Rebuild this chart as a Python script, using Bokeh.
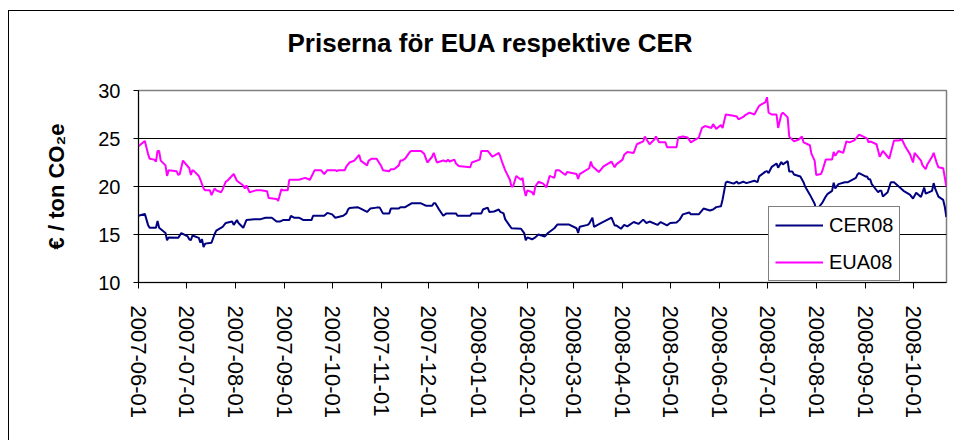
import pandas as pd
from bokeh.plotting import figure
from bokeh.models import (FixedTicker, DatetimeTickFormatter, Legend, LegendItem,
                          Range1d, Title)
from bokeh.embed import file_html
from bokeh.resources import INLINE

# ---------------- data ----------------
title_text = "Priserna för EUA respektive CER"
y_label = "€ / ton CO₂e"
y_ticks = [10, 15, 20, 25, 30]
tick_labels = ["2007-06-01", "2007-07-01", "2007-08-01", "2007-09-01", "2007-10-01",
               "2007-11-01", "2007-12-01", "2008-01-01", "2008-02-01", "2008-03-01",
               "2008-04-01", "2008-05-01", "2008-06-01", "2008-07-01", "2008-08-01",
               "2008-09-01", "2008-10-01"]
series_names = ["CER08", "EUA08"]

eua_dates = [
    "2007-06-01", "2007-06-05", "2007-06-07", "2007-06-08", "2007-06-11", "2007-06-12",
    "2007-06-13", "2007-06-14", "2007-06-15", "2007-06-18", "2007-06-19", "2007-06-20",
    "2007-06-25", "2007-06-26", "2007-06-27", "2007-06-29", "2007-07-03", "2007-07-04",
    "2007-07-05", "2007-07-06", "2007-07-09", "2007-07-10", "2007-07-12", "2007-07-13",
    "2007-07-16", "2007-07-17", "2007-07-19", "2007-07-20", "2007-07-23", "2007-07-24",
    "2007-07-26", "2007-07-27", "2007-07-31", "2007-08-02", "2007-08-06", "2007-08-07",
    "2007-08-08", "2007-08-10", "2007-08-14", "2007-08-17", "2007-08-21", "2007-08-22",
    "2007-08-27", "2007-08-28", "2007-08-30", "2007-08-31", "2007-09-03", "2007-09-04",
    "2007-09-10", "2007-09-14", "2007-09-17", "2007-09-20", "2007-09-24", "2007-09-26",
    "2007-09-28", "2007-10-03", "2007-10-04", "2007-10-05", "2007-10-09", "2007-10-10",
    "2007-10-12", "2007-10-15", "2007-10-18", "2007-10-19", "2007-10-23", "2007-10-24",
    "2007-10-26", "2007-10-29", "2007-11-01", "2007-11-02", "2007-11-06", "2007-11-07",
    "2007-11-09", "2007-11-12", "2007-11-13", "2007-11-14", "2007-11-16", "2007-11-19",
    "2007-11-20", "2007-11-26", "2007-11-28", "2007-11-30", "2007-12-03", "2007-12-04",
    "2007-12-06", "2007-12-10", "2007-12-12", "2007-12-13", "2007-12-14", "2007-12-17",
    "2007-12-18", "2007-12-20", "2007-12-21", "2007-12-27", "2007-12-28", "2008-01-02",
    "2008-01-03", "2008-01-07", "2008-01-10", "2008-01-14", "2008-01-15", "2008-01-16",
    "2008-01-18", "2008-01-21", "2008-01-22", "2008-01-23", "2008-01-25", "2008-01-28",
    "2008-01-29", "2008-01-30", "2008-01-31", "2008-02-01", "2008-02-04", "2008-02-05",
    "2008-02-06", "2008-02-08", "2008-02-11", "2008-02-13", "2008-02-15", "2008-02-18",
    "2008-02-19", "2008-02-21", "2008-02-25", "2008-02-26", "2008-03-03", "2008-03-04",
    "2008-03-05", "2008-03-07", "2008-03-11", "2008-03-12", "2008-03-13", "2008-03-17",
    "2008-03-20", "2008-03-25", "2008-03-27", "2008-03-28", "2008-04-01", "2008-04-02",
    "2008-04-04", "2008-04-08", "2008-04-10", "2008-04-14", "2008-04-15", "2008-04-18",
    "2008-04-21", "2008-04-22", "2008-04-24", "2008-04-28", "2008-04-29", "2008-05-05",
    "2008-05-06", "2008-05-09", "2008-05-12", "2008-05-14", "2008-05-16", "2008-05-19",
    "2008-05-21", "2008-05-23", "2008-05-27", "2008-05-28", "2008-05-30", "2008-06-02",
    "2008-06-03", "2008-06-05", "2008-06-09", "2008-06-12", "2008-06-13", "2008-06-16",
    "2008-06-17", "2008-06-20", "2008-06-23", "2008-06-26", "2008-06-27", "2008-06-30",
    "2008-07-01", "2008-07-02", "2008-07-04", "2008-07-07", "2008-07-08", "2008-07-10",
    "2008-07-11", "2008-07-14", "2008-07-15", "2008-07-18", "2008-07-21", "2008-07-23",
    "2008-07-24", "2008-07-28", "2008-07-29", "2008-07-31", "2008-08-01", "2008-08-04",
    "2008-08-05", "2008-08-07", "2008-08-11", "2008-08-12", "2008-08-13", "2008-08-15",
    "2008-08-18", "2008-08-20", "2008-08-22", "2008-08-25", "2008-08-28", "2008-09-01",
    "2008-09-02", "2008-09-03", "2008-09-04", "2008-09-08", "2008-09-10", "2008-09-12",
    "2008-09-15", "2008-09-16", "2008-09-19", "2008-09-22", "2008-09-24", "2008-09-26",
    "2008-09-29", "2008-10-01", "2008-10-02", "2008-10-06", "2008-10-07", "2008-10-09",
    "2008-10-10", "2008-10-13", "2008-10-14", "2008-10-16", "2008-10-17", "2008-10-20",
    "2008-10-22"]
eua_values = [
    24.2, 24.75, 23.4, 22.9, 22.8, 22.6, 23.7, 23.7, 22.7, 22.2, 21.1, 21.7,
    21.6, 21.2, 21.3, 22.7, 21.9, 21.2, 21.7, 21.6, 21.1, 20.7, 19.8, 19.6,
    19.6, 19.1, 19.8, 19.6, 19.4, 19.7, 20.5, 20.6, 21.3, 20.6, 20.1, 19.8,
    20.1, 19.4, 19.6, 19.6, 19.5, 18.8, 18.7, 18.5, 19.7, 19.6, 19.6, 20.7,
    20.7, 20.9, 20.7, 21.7, 21.7, 21.3, 21.7, 21.7, 21.6, 21.7, 21.7, 22.1,
    22.5, 22.7, 23.3, 22.7, 22.2, 22.7, 22.9, 22.9, 22.1, 21.7, 21.6, 21.8,
    21.8, 22.2, 22.7, 22.7, 22.9, 23.6, 23.7, 23.7, 23.4, 22.5, 23.1, 23.5,
    22.5, 22.7, 22.6, 22.8, 22.6, 22.8, 22.4, 22.1, 22.1, 22.0, 22.5, 22.8,
    23.7, 23.7, 23.1, 23.5, 23.1, 22.6, 21.7, 20.7, 20.0, 20.0, 21.1, 20.7,
    20.9, 19.7, 19.0, 19.6, 19.4, 19.1, 20.0, 20.5, 20.3, 19.9, 21.1, 20.9,
    21.7, 21.7, 21.2, 21.5, 21.3, 20.8, 21.3, 21.5, 21.9, 22.6, 22.1, 21.5,
    22.1, 22.6, 22.0, 22.3, 22.8, 23.3, 23.6, 23.5, 24.4, 24.7, 25.2, 24.4,
    24.9, 25.2, 24.6, 24.6, 24.1, 24.1, 25.1, 25.2, 25.1, 24.6, 24.8, 25.1,
    26.1, 26.3, 26.1, 26.5, 26.0, 26.4, 26.1, 27.5, 27.4, 27.3, 27.0, 27.25,
    27.4, 27.7, 27.5, 28.4, 28.5, 28.8, 29.3, 27.7, 27.5, 27.5, 26.1, 27.5,
    27.7, 27.2, 25.2, 24.7, 24.9, 25.2, 24.6, 24.3, 23.4, 22.7, 21.2, 21.3,
    21.7, 22.8, 22.8, 23.6, 23.2, 23.7, 23.5, 24.7, 24.6, 24.8, 25.4, 25.1,
    25.0, 24.6, 24.7, 24.4, 23.1, 23.7, 23.1, 22.9, 24.8, 24.8, 24.9, 24.2,
    23.4, 22.5, 23.5, 22.7, 22.2, 21.8, 22.3, 23.1, 23.5, 22.4, 22.0, 21.9,
    20.0]

cer_dates = [
    "2007-06-01", "2007-06-05", "2007-06-07", "2007-06-08", "2007-06-12", "2007-06-13",
    "2007-06-14", "2007-06-18", "2007-06-19", "2007-06-20", "2007-06-26", "2007-06-28",
    "2007-07-02", "2007-07-03", "2007-07-04", "2007-07-05", "2007-07-09", "2007-07-10",
    "2007-07-11", "2007-07-12", "2007-07-13", "2007-07-17", "2007-07-19", "2007-07-20",
    "2007-07-24", "2007-07-26", "2007-07-30", "2007-07-31", "2007-08-02", "2007-08-03",
    "2007-08-06", "2007-08-08", "2007-08-13", "2007-08-17", "2007-08-20", "2007-08-24",
    "2007-08-27", "2007-08-29", "2007-08-31", "2007-09-04", "2007-09-05", "2007-09-07",
    "2007-09-10", "2007-09-13", "2007-09-18", "2007-09-19", "2007-09-26", "2007-09-28",
    "2007-10-01", "2007-10-03", "2007-10-08", "2007-10-10", "2007-10-11", "2007-10-12",
    "2007-10-17", "2007-10-19", "2007-10-23", "2007-10-25", "2007-10-29", "2007-10-31",
    "2007-11-02", "2007-11-06", "2007-11-07", "2007-11-12", "2007-11-13", "2007-11-16",
    "2007-11-20", "2007-11-26", "2007-11-29", "2007-12-03", "2007-12-04", "2007-12-05",
    "2007-12-07", "2007-12-10", "2007-12-12", "2007-12-18", "2007-12-19", "2007-12-21",
    "2007-12-27", "2007-12-28", "2008-01-03", "2008-01-04", "2008-01-07", "2008-01-08",
    "2008-01-11", "2008-01-14", "2008-01-15", "2008-01-17", "2008-01-18", "2008-01-22",
    "2008-01-28", "2008-01-30", "2008-01-31", "2008-02-01", "2008-02-04", "2008-02-06",
    "2008-02-08", "2008-02-12", "2008-02-14", "2008-02-18", "2008-02-20", "2008-02-27",
    "2008-03-03", "2008-03-04", "2008-03-05", "2008-03-10", "2008-03-11", "2008-03-13",
    "2008-03-14", "2008-03-18", "2008-03-25", "2008-03-27", "2008-03-28", "2008-03-31",
    "2008-04-02", "2008-04-04", "2008-04-08", "2008-04-11", "2008-04-14", "2008-04-16",
    "2008-04-18", "2008-04-23", "2008-04-25", "2008-04-29", "2008-05-01", "2008-05-05",
    "2008-05-07", "2008-05-09", "2008-05-13", "2008-05-14", "2008-05-19", "2008-05-22",
    "2008-05-26", "2008-05-28", "2008-05-30", "2008-06-02", "2008-06-03", "2008-06-05",
    "2008-06-06", "2008-06-10", "2008-06-12", "2008-06-13", "2008-06-16", "2008-06-18",
    "2008-06-23", "2008-06-25", "2008-06-26", "2008-06-30", "2008-07-01", "2008-07-02",
    "2008-07-04", "2008-07-07", "2008-07-08", "2008-07-10", "2008-07-11", "2008-07-14",
    "2008-07-15", "2008-07-17", "2008-07-18", "2008-07-22", "2008-07-24", "2008-07-25",
    "2008-07-28", "2008-07-31", "2008-08-01", "2008-08-05", "2008-08-07", "2008-08-08",
    "2008-08-11", "2008-08-12", "2008-08-13", "2008-08-15", "2008-08-19", "2008-08-21",
    "2008-08-26", "2008-08-27", "2008-08-28", "2008-09-01", "2008-09-02", "2008-09-03",
    "2008-09-04", "2008-09-05", "2008-09-09", "2008-09-10", "2008-09-11", "2008-09-12",
    "2008-09-15", "2008-09-17", "2008-09-19", "2008-09-22", "2008-09-25", "2008-09-29",
    "2008-10-01", "2008-10-03", "2008-10-06", "2008-10-08", "2008-10-09", "2008-10-13",
    "2008-10-14", "2008-10-15", "2008-10-17", "2008-10-20", "2008-10-21", "2008-10-22"]
cer_values = [
    16.95, 17.15, 16.0, 15.7, 15.7, 16.4, 15.7, 15.15, 14.4, 14.7, 14.65, 15.15,
    14.8, 14.5, 14.4, 14.9, 14.65, 14.15, 14.5, 13.7, 14.05, 14.15, 15.05, 15.4,
    15.8, 16.2, 16.35, 16.0, 16.5, 16.2, 15.7, 16.5, 16.6, 16.6, 16.75, 16.75,
    16.35, 16.35, 16.5, 16.5, 16.95, 16.75, 16.75, 16.5, 16.5, 16.95, 16.95, 17.25,
    17.1, 16.75, 16.95, 17.2, 17.6, 17.75, 17.85, 17.7, 17.35, 17.7, 17.8, 17.8,
    17.2, 17.2, 17.7, 17.7, 17.85, 17.85, 18.25, 18.25, 18.0, 18.0, 18.25, 18.25,
    17.7, 16.95, 17.2, 17.2, 16.95, 16.95, 16.95, 17.2, 17.2, 17.6, 17.8, 17.35,
    17.4, 17.6, 17.35, 17.2, 16.6, 15.65, 15.6, 15.15, 14.4, 14.7, 14.5, 14.7,
    15.0, 14.8, 15.15, 15.65, 16.05, 16.05, 15.65, 15.15, 15.8, 16.0, 16.15, 16.75,
    15.8, 16.15, 16.75, 15.95, 15.95, 15.6, 16.0, 15.85, 16.3, 16.1, 16.55, 16.2,
    16.35, 16.0, 16.3, 15.95, 16.2, 16.25, 16.55, 17.1, 17.3, 17.1, 17.1, 17.7,
    17.5, 17.6, 17.85, 17.95, 18.65, 20.4, 20.5, 20.3, 20.5, 20.3, 20.5, 20.35,
    20.6, 20.45, 21.05, 21.55, 21.6, 21.4, 22.05, 22.4, 21.95, 22.55, 22.3, 22.65,
    21.55, 21.55, 21.25, 21.05, 20.45, 20.0, 19.15, 18.2, 17.5, 18.35, 18.95, 19.2,
    19.55, 20.4, 19.8, 20.25, 20.45, 20.45, 20.9, 21.25, 21.4, 21.05, 21.05, 20.75,
    20.75, 20.25, 19.4, 19.55, 19.55, 18.95, 19.4, 20.45, 20.45, 20.0, 19.55, 19.15,
    18.75, 19.35, 18.9, 19.9, 19.25, 19.55, 20.35, 19.75, 18.95, 18.6, 17.9, 16.8]

# ---------------- figure ----------------
FONT = "Liberation Sans"
CER_COLOR = "#000080"
EUA_COLOR = "#FF00FF"

x_start = pd.Timestamp("2007-06-01")
x_end = pd.Timestamp("2008-10-22 02:00")

p = figure(width=946, height=430, x_axis_type="datetime",
           x_range=Range1d(x_start, x_end), y_range=Range1d(10, 30),
           output_backend="svg", toolbar_location=None, title=None,
           min_border_left=129, min_border_right=9,
           min_border_top=79, min_border_bottom=159)
# outer chart border (only left and top edges fall inside the window)
p.styles = {"margin-left": "8px", "margin-top": "10px",
            "border-left": "1px solid black", "border-top": "1px solid black"}
p.background_fill_color = "white"
p.border_fill_color = "white"
p.outline_line_color = "#808080"
p.outline_line_width = 1.5

r_cer = p.line(pd.to_datetime(cer_dates), cer_values, color=CER_COLOR, line_width=2)
r_eua = p.line(pd.to_datetime(eua_dates), eua_values, color=EUA_COLOR, line_width=2)

# axes
p.xgrid.visible = False
p.yaxis.ticker = FixedTicker(ticks=y_ticks)
p.ygrid.grid_line_color = "black"
p.ygrid.grid_line_width = 1

tick_ms = [pd.Timestamp(t).timestamp() * 1000 for t in tick_labels]
p.xaxis.ticker = FixedTicker(ticks=tick_ms)
fmt = "%Y-%m-%d"
p.xaxis.formatter = DatetimeTickFormatter(
    milliseconds=fmt, seconds=fmt, minsec=fmt, minutes=fmt, hourmin=fmt,
    hours=fmt, days=fmt, months=fmt, years=fmt)
p.xaxis.major_label_orientation = "vertical"

for ax in (p.xaxis, p.yaxis):
    ax.axis_line_color = "black"
    ax.axis_line_width = 1
    ax.major_tick_line_color = "black"
    ax.major_tick_in = 0
    ax.minor_tick_line_color = None
    ax.major_label_text_font = FONT
    ax.major_label_text_color = "black"

p.xaxis.major_tick_out = 6
p.xaxis.major_label_text_font_size = "22px"
p.xaxis.major_label_standoff = 17
p.yaxis.major_tick_out = 5
p.yaxis.major_label_text_font_size = "20px"
p.yaxis.major_label_standoff = 13

p.yaxis.axis_label = y_label
p.yaxis.axis_label_text_font = FONT
p.yaxis.axis_label_text_font_size = "22px"
p.yaxis.axis_label_text_font_style = "bold"
p.yaxis.axis_label_text_color = "black"
p.yaxis.axis_label_standoff = 26

# title: a small spacer slot next to the frame, the real title above it
spacer = Title(text=" ", text_font_size="6px", standoff=8, text_color="white")
p.add_layout(spacer, "above")
title = Title(text=title_text, align="left", vertical_align="top",
              text_font=FONT, text_font_size="26px", text_font_style="bold",
              text_color="black", standoff=30, offset=149)
p.add_layout(title, "above")

# legend
legend = Legend(items=[LegendItem(label=series_names[0], renderers=[r_cer]),
                       LegendItem(label=series_names[1], renderers=[r_eua])],
                location=(630, 1))
legend.border_line_color = "black"
legend.border_line_width = 1
legend.background_fill_color = "white"
legend.background_fill_alpha = 1
legend.padding = 6
legend.spacing = 13
legend.margin = 0
legend.label_height = 24
legend.glyph_height = 24
legend.glyph_width = 48
legend.label_standoff = 6
legend.label_text_font = FONT
legend.label_text_font_size = "20px"
legend.label_text_color = "black"
p.add_layout(legend, "center")

open("out.html", "w").write(file_html(p, INLINE))
